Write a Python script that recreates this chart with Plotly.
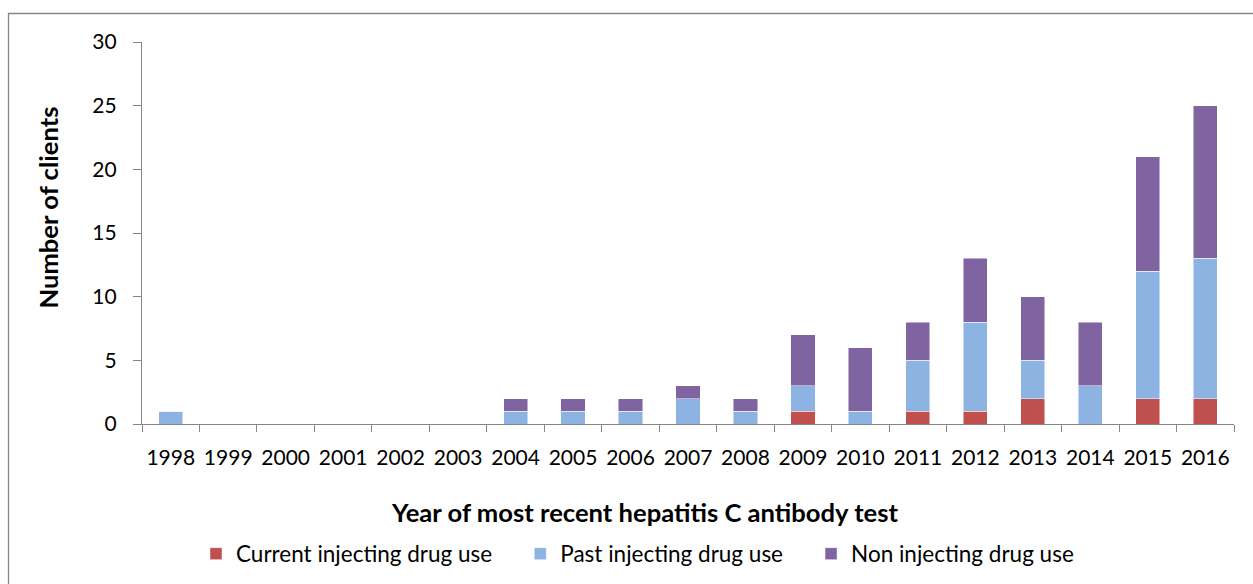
import plotly.graph_objects as go

years = [str(y) for y in range(1998, 2017)]
current_idu = [0, 0, 0, 0, 0, 0, 0, 0, 0, 0, 0, 1, 0, 1, 1, 2, 0, 2, 2]
past_idu = [1, 0, 0, 0, 0, 0, 1, 1, 1, 2, 1, 2, 1, 4, 7, 3, 3, 10, 11]
non_idu = [0, 0, 0, 0, 0, 0, 1, 1, 1, 1, 1, 4, 5, 3, 5, 5, 5, 9, 12]

series_names = ["Current injecting drug use", "Past injecting drug use", "Non injecting drug use"]
series_colors = ["#C0504D", "#8DB3E2", "#8064A2"]
x_title = "Year of most recent hepatitis C antibody test"
y_title = "Number of clients"

FONT = "Lato, sans-serif"
TICK_SIZE = 21
LEGEND_SIZE = 22.5
TITLE_SIZE = 25.6
W, H = 1253, 584
L, R, T, B = 142, 19, 42, 160
plot_w = W - L - R
plot_h = H - T - B
LEGEND_PAD = "\u00a0" * 4  # extra room after each legend entry

fig = go.Figure()
for name, vals, col in zip(series_names, [current_idu, past_idu, non_idu], series_colors):
    fig.add_trace(go.Bar(
        x=years, y=vals, name=name + LEGEND_PAD,
        marker=dict(color=col, line=dict(color="rgba(255,255,255,0.6)", width=0.8)),
    ))


def px_x(p):
    return (p - L) / plot_w


def px_y(p):
    return (H - B - p) / plot_h


fig.update_layout(
    width=W, height=H,
    margin=dict(l=L, r=R, t=T, b=B, pad=0, autoexpand=False),
    barmode="stack", bargap=0.58,
    plot_bgcolor="white", paper_bgcolor="white",
    font=dict(family=FONT, size=TICK_SIZE, color="#000000"),
    showlegend=True,
    legend=dict(
        orientation="h", x=px_x(649), xanchor="center",
        y=px_y(554), yanchor="middle",
        font=dict(family=FONT, size=LEGEND_SIZE, color="#000000"),
        traceorder="normal", itemwidth=30,
    ),
    xaxis=dict(
        type="category", tickson="boundaries", ticks="outside", ticklen=7,
        tickcolor="#868686", showline=True, linecolor="#868686", linewidth=1.3,
        showgrid=False, zeroline=False, ticklabelstandoff=15, tickangle=0,
        automargin=False,
        tickfont=dict(family=FONT, size=TICK_SIZE),
    ),
    yaxis=dict(
        range=[0, 30], dtick=5, ticks="outside", ticklen=8,
        tickcolor="#868686", showline=True, linecolor="#868686", linewidth=1.3,
        showgrid=False, zeroline=False, ticklabelstandoff=12,
        automargin=False,
        tickfont=dict(family=FONT, size=TICK_SIZE),
    ),
    annotations=[
        dict(text=f"<b>{x_title}</b>", xref="paper", yref="paper",
             x=px_x(644.5), y=px_y(512), xanchor="center", yanchor="middle",
             showarrow=False, font=dict(family=FONT, size=TITLE_SIZE, color="#000000")),
        dict(text=f"<b>{y_title}</b>", xref="paper", yref="paper", textangle=-90,
             x=px_x(47), y=px_y(207.5), xanchor="center", yanchor="middle",
             showarrow=False, font=dict(family=FONT, size=TITLE_SIZE, color="#000000")),
    ],
    shapes=[dict(
        type="rect", xref="paper", yref="paper",
        x0=px_x(8.5), x1=px_x(1265), y0=px_y(13.5), y1=px_y(600),
        line=dict(color="#868686", width=1.3), fillcolor="rgba(0,0,0,0)", layer="below",
    )],
)

fig.write_html("out.html")
